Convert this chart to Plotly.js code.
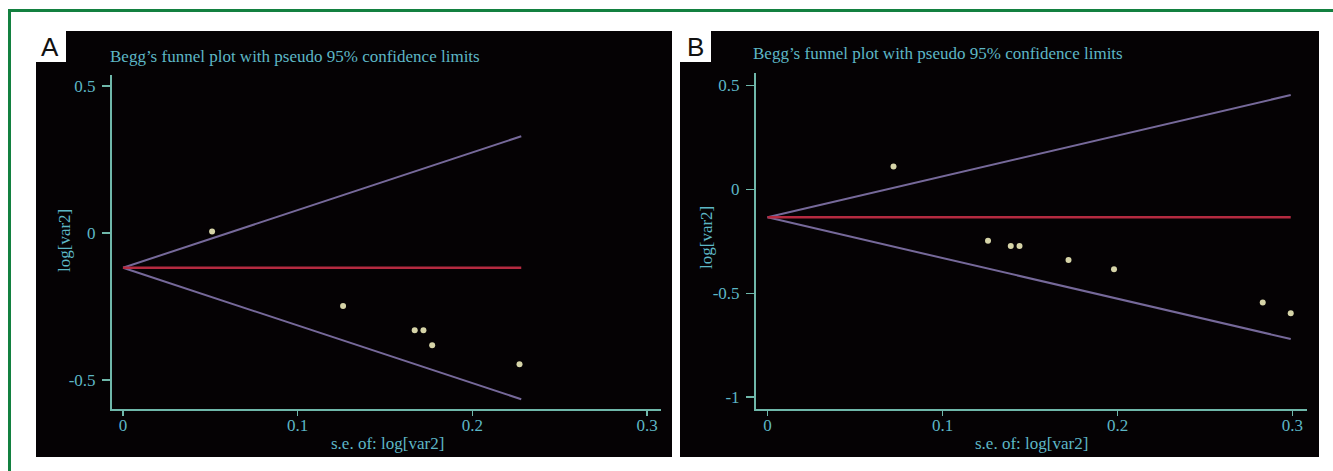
<!DOCTYPE html>
<html>
<head>
<meta charset="utf-8">
<script src="https://cdn.plot.ly/plotly-3.0.1.min.js"></script>
<style>html,body{margin:0;padding:0;background:#fff;}#chart{width:1333px;height:471px;}</style>
</head>
<body>
<div id="chart"></div>
<script>
// ---- Data ----
const panelLabels = ["A", "B"];
const chartTitle = "Begg\u2019s funnel plot with pseudo 95% confidence limits";
const xTitle = "s.e. of: log[var2]";
const yTitle = "log[var2]";

const xTickVals = [0, 0.1, 0.2, 0.3];
const xTickText = ["0", "0.1", "0.2", "0.3"];

// Panel A
const seA = [0.051, 0.126, 0.167, 0.172, 0.177, 0.227];
const logA = [0.005, -0.248, -0.330, -0.330, -0.381, -0.446];
const pooledA = -0.118;
const ciXA = [0, 0.228];
const ciUpperA = [-0.118, 0.329];
const ciLowerA = [-0.118, -0.565];
const yTickValsA = [0.5, 0, -0.5];
const yTickTextA = ["0.5", "0", "-0.5"];

// Panel B
const seB = [0.072, 0.126, 0.139, 0.144, 0.172, 0.198, 0.283, 0.299];
const logB = [0.109, -0.247, -0.273, -0.273, -0.340, -0.385, -0.545, -0.596];
const pooledB = -0.135;
const ciXB = [0, 0.299];
const ciUpperB = [-0.135, 0.453];
const ciLowerB = [-0.135, -0.720];
const yTickValsB = [0.5, 0, -0.5, -1];
const yTickTextB = ["0.5", "0", "-0.5", "-1"];

// ---- Styling ----
const W = 1333, H = 471;
const px = v => v / W;
const py = v => (H - v) / H;
const serif = "Liberation Serif, Times New Roman, serif";
const textCol = "#5db7c6";
const axisCol = "#6fb7aa";
const ciCol = "#76699a";
const redCol = "#b52a40";
const ptCol = "#d6d4a8";

function panelTraces(se, lg, pooled, ciX, up, lo, xa, ya) {
  return [
    {x: ciX, y: up, xaxis: xa, yaxis: ya, mode: "lines", line: {color: ciCol, width: 2}, hoverinfo: "skip"},
    {x: ciX, y: lo, xaxis: xa, yaxis: ya, mode: "lines", line: {color: ciCol, width: 2}, hoverinfo: "skip"},
    {x: [ciX[0], ciX[1]], y: [pooled, pooled], xaxis: xa, yaxis: ya, mode: "lines", line: {color: redCol, width: 2.5}, hoverinfo: "skip"},
    {x: se, y: lg, xaxis: xa, yaxis: ya, mode: "markers", marker: {color: ptCol, size: 6}}
  ];
}

const data = [].concat(
  panelTraces(seA, logA, pooledA, ciXA, ciUpperA, ciLowerA, "x", "y"),
  panelTraces(seB, logB, pooledB, ciXB, ciUpperB, ciLowerB, "x2", "y2")
);

function xAxis(domain, range, anchor) {
  return {
    domain: domain, range: range, anchor: anchor,
    tickmode: "array", tickvals: xTickVals, ticktext: xTickText,
    ticks: "outside", ticklen: 5, tickwidth: 1.5, tickcolor: axisCol,
    showline: true, linecolor: axisCol, linewidth: 2,
    showgrid: false, zeroline: false,
    ticklabelstandoff: -6,
    tickfont: {family: serif, size: 17, color: textCol}
  };
}
function yAxis(domain, range, anchor, vals, text) {
  return {
    domain: domain, range: range, anchor: anchor,
    tickmode: "array", tickvals: vals, ticktext: text,
    ticks: "outside", ticklen: 8, tickwidth: 1.5, tickcolor: axisCol,
    showline: true, linecolor: axisCol, linewidth: 2,
    showgrid: false, zeroline: false,
    ticklabelstandoff: 3,
    tickfont: {family: serif, size: 17, color: textCol}
  };
}

const shapes = [
  // black panels
  {type: "rect", xref: "paper", yref: "paper", x0: px(36), x1: px(672), y0: py(457), y1: py(31), fillcolor: "#050204", line: {width: 0}, layer: "below"},
  {type: "rect", xref: "paper", yref: "paper", x0: px(680), x1: px(1319), y0: py(457), y1: py(31), fillcolor: "#050204", line: {width: 0}, layer: "below"},
  // white label notches
  {type: "rect", xref: "paper", yref: "paper", x0: px(36), x1: px(66), y0: py(62), y1: py(31), fillcolor: "#ffffff", line: {width: 0}, layer: "below"},
  {type: "rect", xref: "paper", yref: "paper", x0: px(680), x1: px(711), y0: py(62), y1: py(31), fillcolor: "#ffffff", line: {width: 0}, layer: "below"},
  // green frame
  {type: "line", xref: "paper", yref: "paper", x0: px(9.5), x1: px(9.5), y0: py(9), y1: py(475), line: {color: "#138040", width: 3}},
  {type: "line", xref: "paper", yref: "paper", x0: px(8), x1: px(1340), y0: py(10.5), y1: py(10.5), line: {color: "#138040", width: 3}}
];

const annotations = [
  {text: panelLabels[0], xref: "paper", yref: "paper", x: px(50), y: py(47), xanchor: "center", yanchor: "middle", showarrow: false, font: {family: "Liberation Sans, Arial, sans-serif", size: 26, color: "#111"}},
  {text: panelLabels[1], xref: "paper", yref: "paper", x: px(695.5), y: py(47), xanchor: "center", yanchor: "middle", showarrow: false, font: {family: "Liberation Sans, Arial, sans-serif", size: 26, color: "#111"}},
  {text: chartTitle, xref: "paper", yref: "paper", x: px(108), y: py(57), xanchor: "left", yanchor: "middle", showarrow: false, font: {family: serif, size: 17, color: textCol}},
  {text: chartTitle, xref: "paper", yref: "paper", x: px(751), y: py(54), xanchor: "left", yanchor: "middle", showarrow: false, font: {family: serif, size: 17, color: textCol}},
  {text: xTitle, xref: "paper", yref: "paper", x: px(387), y: py(443), xanchor: "center", yanchor: "middle", showarrow: false, font: {family: serif, size: 17, color: textCol}},
  {text: xTitle, xref: "paper", yref: "paper", x: px(1031), y: py(443), xanchor: "center", yanchor: "middle", showarrow: false, font: {family: serif, size: 17, color: textCol}},
  {text: yTitle, xref: "paper", yref: "paper", x: px(64), y: py(241), xanchor: "center", yanchor: "middle", textangle: -90, showarrow: false, font: {family: serif, size: 17, color: textCol}},
  {text: yTitle, xref: "paper", yref: "paper", x: px(706), y: py(238), xanchor: "center", yanchor: "middle", textangle: -90, showarrow: false, font: {family: serif, size: 17, color: textCol}}
];

const layout = {
  width: W, height: H,
  margin: {l: 0, r: 0, t: 0, b: 0, pad: 0},
  paper_bgcolor: "#ffffff",
  plot_bgcolor: "rgba(0,0,0,0)",
  showlegend: false,
  xaxis: xAxis([px(112), px(661)], [-0.0063, 0.308], "y"),
  yaxis: yAxis([py(409.3), py(75)], [-0.599, 0.537], "x", yTickValsA, yTickTextA),
  xaxis2: xAxis([px(756), px(1307)], [-0.0066, 0.3083], "y2"),
  yaxis2: yAxis([py(409.3), py(73)], [-1.058, 0.559], "x2", yTickValsB, yTickTextB),
  shapes: shapes,
  annotations: annotations
};

Plotly.newPlot("chart", data, layout, {displayModeBar: false, staticPlot: true});
</script>
</body>
</html>
